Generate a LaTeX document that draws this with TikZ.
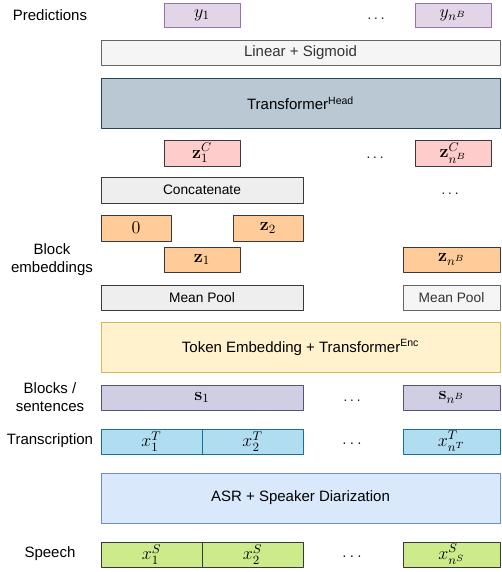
\documentclass[tikz,border=0pt]{standalone}
\usepackage{fix-cm}
\usepackage[no-math]{fontspec}
\setmainfont{Liberation Sans}
\newcommand\bigtxt{\fontsize{11.25}{13.5}\selectfont}
\newcommand\smalltxt{\fontsize{10.3}{12.4}\selectfont}
\newcommand\mathtxt{\fontsize{13.5}{16}\selectfont}
\definecolor{predfill}{HTML}{E1D5E7}
\definecolor{preddraw}{HTML}{9673A6}
\definecolor{lightfill}{HTML}{F5F5F5}
\definecolor{lightdraw}{HTML}{666666}
\definecolor{headfill}{HTML}{BAC8D3}
\definecolor{headdraw}{HTML}{23445D}
\definecolor{ctxfill}{HTML}{FFCCCC}
\definecolor{darkdraw}{HTML}{36393D}
\definecolor{opfill}{HTML}{EEEEEE}
\definecolor{embfill}{HTML}{FFCC99}
\definecolor{encfill}{HTML}{FFF2CC}
\definecolor{encdraw}{HTML}{D6B656}
\definecolor{sentfill}{HTML}{D0CEE2}
\definecolor{sentdraw}{HTML}{56517E}
\definecolor{trfill}{HTML}{B1DDF0}
\definecolor{trdraw}{HTML}{10739E}
\definecolor{asrfill}{HTML}{DAE8FC}
\definecolor{asrdraw}{HTML}{6C8EBF}
\definecolor{spfill}{HTML}{CDEB8B}
\definecolor{greytxt}{HTML}{333333}
\begin{document}
\begin{tikzpicture}[x=0.75pt,y=-0.75pt,line join=bevel,
  box/.style={draw,line width=0.75pt,inner sep=0pt,font=\mathtxt,minimum height=18.75pt},
  wide/.style={box,font=\bigtxt,minimum width=299.25pt,minimum height=37.5pt},
  lbl/.style={font=\bigtxt,align=center,inner sep=0pt},
  dots/.style={font=\bigtxt,inner sep=0pt}]
\useasboundingbox (0,0) rectangle (501,572);
%%
\node (lbl_pred) at (50,15) [lbl] {Predictions};
  \node (y_1) at (202,15) [box,fill=predfill,draw=preddraw,minimum width=57pt,minimum height=18pt] {$y_1$};
  \node (y_dots) at (376,19) [dots] {$\ldots$};
  \node (y_n) at (453,15) [box,fill=predfill,draw=preddraw,minimum width=57pt,minimum height=18pt] {$y_{n^B}$};
  \node (lin_sig) at (300.5,52.5) [box,fill=lightfill,draw=lightdraw,minimum width=299.25pt,font=\bigtxt,text=greytxt] {Linear + Sigmoid};
  \node (trf_head) at (300.5,103) [wide,fill=headfill,draw=headdraw] {Transformer\textsuperscript{Head}};
%
  \node (zc_1) at (202,153) [box,fill=ctxfill,draw=darkdraw,minimum width=57pt,minimum height=19.5pt] {$\mathbf{z}_1^C$};
  \node (zc_dots) at (375,158) [dots] {$\ldots$};
  \node (zc_n) at (453,153) [box,fill=ctxfill,draw=darkdraw,minimum width=57pt,minimum height=19.5pt] {$\mathbf{z}_{n^B}^C$};
  \node (concat) at (202,190) [box,fill=opfill,draw=darkdraw,minimum width=151.5pt,minimum height=19.5pt,font=\smalltxt] {Concatenate};
  \node (concat_dots) at (450,194) [dots] {$\ldots$};
  \node (z_0) at (136,228) [box,fill=embfill,draw=darkdraw,minimum width=52.5pt,minimum height=19.5pt] {$0$};
  \node (z_2) at (268,228) [box,fill=embfill,draw=darkdraw,minimum width=52.5pt,minimum height=19.5pt] {$\mathbf{z}_2$};
  \node (lbl_block) at (52,260) [lbl] {Block\\embeddings};
  \node (z_1) at (202,259.5) [box,fill=embfill,draw=darkdraw,minimum width=57pt] {$\mathbf{z}_1$};
  \node (z_n) at (451.5,259.5) [box,fill=embfill,draw=darkdraw,minimum width=72.75pt] {$\mathbf{z}_{n^B}$};
  \node (pool_1) at (202,297.5) [box,fill=opfill,draw=darkdraw,minimum width=151.5pt,font=\smalltxt] {Mean Pool};
  \node (pool_n) at (451.5,297.5) [box,fill=lightfill,draw=lightdraw,minimum width=72.75pt,font=\smalltxt,text=greytxt] {Mean Pool};
%
  \node (trf_enc) at (300.5,347.5) [wide,fill=encfill,draw=encdraw] {Token Embedding + Transformer\textsuperscript{Enc}};
  \node (lbl_sent) at (50,397) [lbl] {Blocks /\\sentences};
  \node (s_1) at (202,397.5) [box,fill=sentfill,draw=sentdraw,minimum width=151.5pt] {$\mathbf{s}_1$};
  \node (s_dots) at (352,401) [dots] {$\ldots$};
  \node (s_n) at (451.5,397.5) [box,fill=sentfill,draw=sentdraw,minimum width=72.75pt] {$\mathbf{s}_{n^B}$};
%
  \node (lbl_tr) at (50,441) [lbl] {Transcription};
  \node (xt_1) at (151.5,441.5) [box,fill=trfill,draw=trdraw,minimum width=75.75pt] {$x_1^T$};
  \node (xt_2) at (252.5,441.5) [box,fill=trfill,draw=trdraw,minimum width=75.75pt] {$x_2^T$};
  \node (xt_dots) at (352,444) [dots,font=\fontsize{13}{15}\selectfont] {$\ldots$};
  \node (xt_n) at (451.5,441.5) [box,fill=trfill,draw=trdraw,minimum width=72.75pt] {$x_{n^T}^T$};
  \node (asr) at (300.5,498) [wide,fill=asrfill,draw=asrdraw] {ASR + Speaker Diarization};
%
  \node (lbl_sp) at (50,554) [lbl] {Speech};
  \node (xs_1) at (151.5,554.5) [box,fill=spfill,draw=darkdraw,minimum width=75.75pt] {$x_1^S$};
  \node (xs_2) at (252.5,554.5) [box,fill=spfill,draw=darkdraw,minimum width=75.75pt] {$x_2^S$};
  \node (xs_dots) at (352,557) [dots,font=\fontsize{13}{15}\selectfont] {$\ldots$};
  \node (xs_n) at (451.5,554.5) [box,fill=spfill,draw=darkdraw,minimum width=72.75pt] {$x_{n^S}^S$};
%
\end{tikzpicture}
\end{document}
